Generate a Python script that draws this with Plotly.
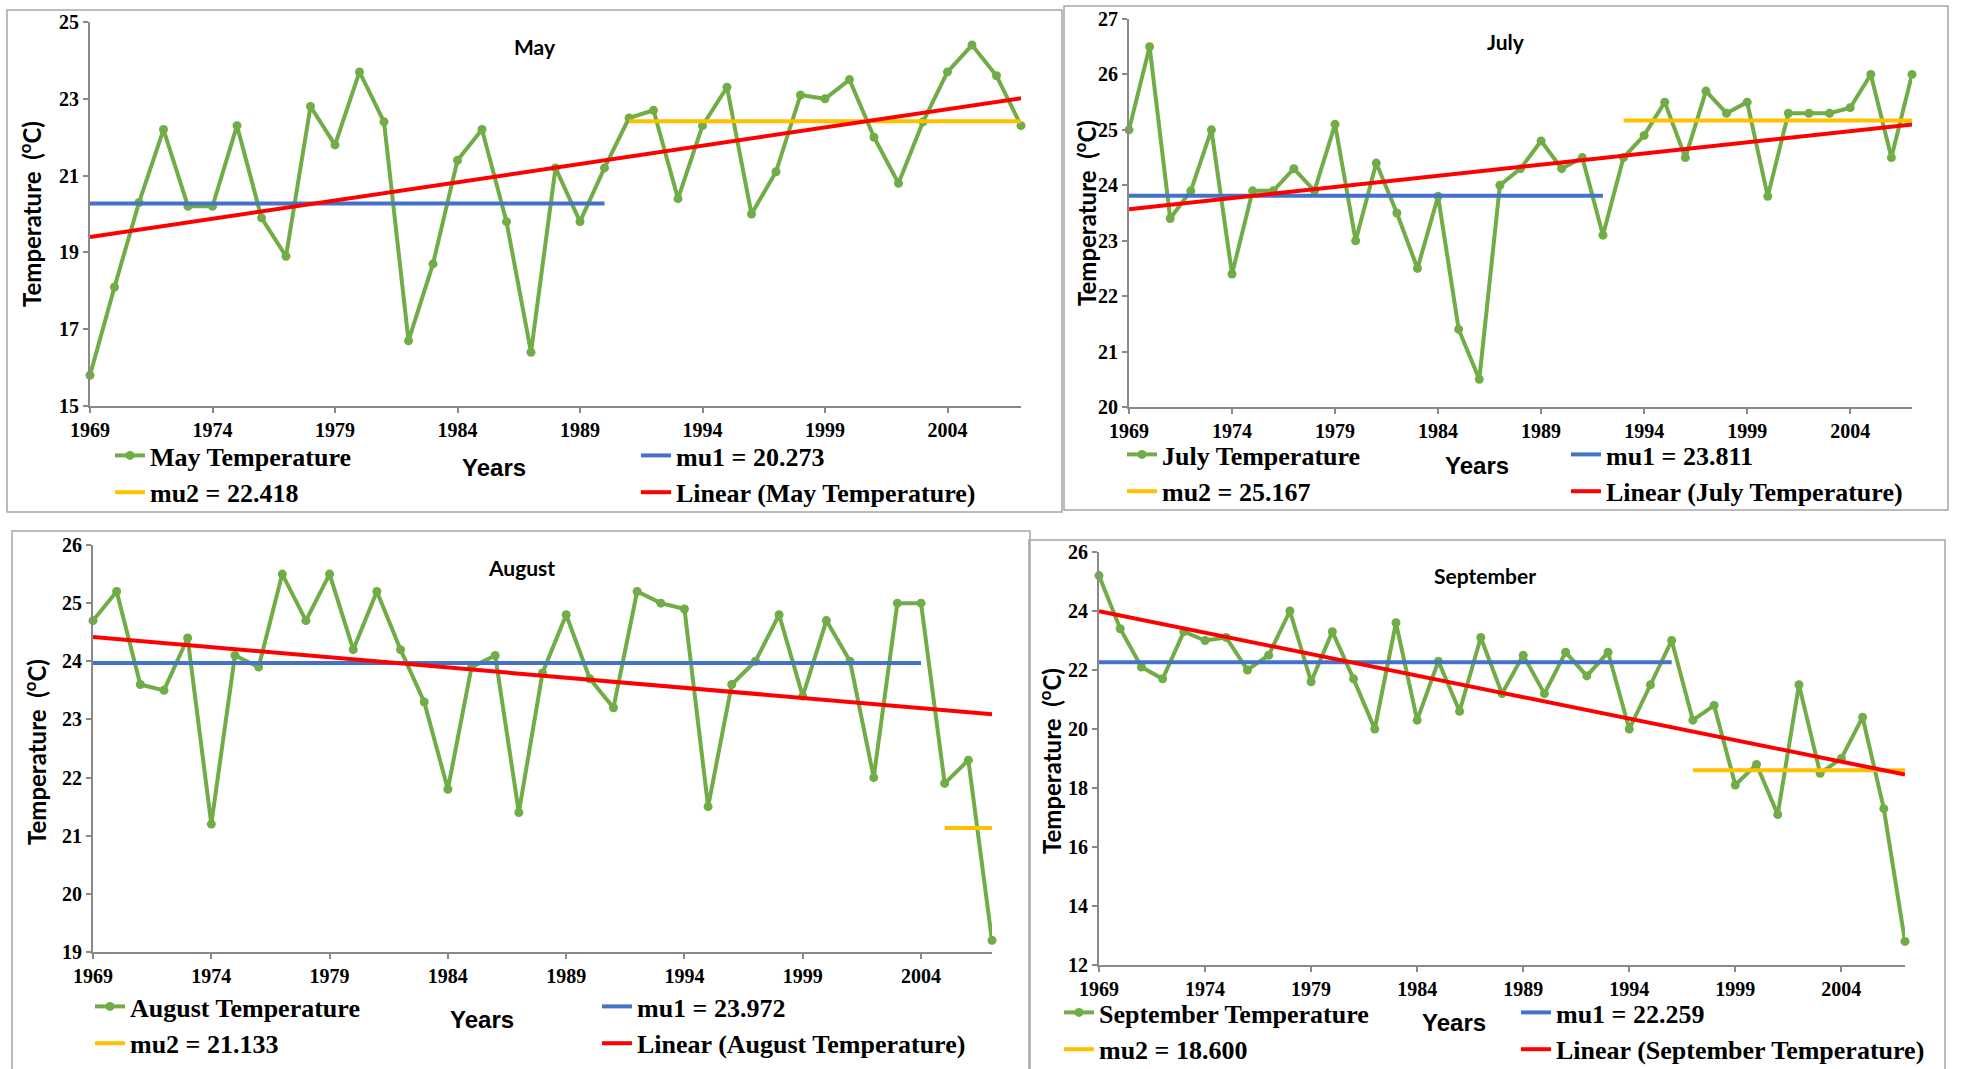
import numpy as np
import plotly.graph_objects as go

W, H = 1961, 1069

# ---------------- data ----------------
YEARS = [1969, 1970, 1971, 1972, 1973, 1974, 1975, 1976, 1977, 1978,
         1979, 1980, 1981, 1982, 1983, 1984, 1985, 1986, 1987, 1988,
         1989, 1990, 1991, 1992, 1993, 1994, 1995, 1996, 1997, 1998,
         1999, 2000, 2001, 2002, 2003, 2004, 2005, 2006, 2007]
TICK_YEARS = [1969, 1974, 1979, 1984, 1989, 1994, 1999, 2004]

MAY_TEMP = [15.8, 18.1, 20.3, 22.2, 20.2, 20.2, 22.3, 19.9, 18.9, 22.8,
            21.8, 23.7, 22.4, 16.7, 18.7, 21.4, 22.2, 19.8, 16.4, 21.2,
            19.8, 21.2, 22.5, 22.7, 20.4, 22.3, 23.3, 20.0, 21.1, 23.1,
            23.0, 23.5, 22.0, 20.8, 22.4, 23.7, 24.4, 23.6, 22.3]
JULY_TEMP = [25.0, 26.5, 23.4, 23.9, 25.0, 22.4, 23.9, 23.9, 24.3, 23.9,
             25.1, 23.0, 24.4, 23.5, 22.5, 23.8, 21.4, 20.5, 24.0, 24.3,
             24.8, 24.3, 24.5, 23.1, 24.5, 24.9, 25.5, 24.5, 25.7, 25.3,
             25.5, 23.8, 25.3, 25.3, 25.3, 25.4, 26.0, 24.5, 26.0]
AUGUST_TEMP = [24.7, 25.2, 23.6, 23.5, 24.4, 21.2, 24.1, 23.9, 25.5, 24.7,
               25.5, 24.2, 25.2, 24.2, 23.3, 21.8, 23.9, 24.1, 21.4, 23.8,
               24.8, 23.7, 23.2, 25.2, 25.0, 24.9, 21.5, 23.6, 24.0, 24.8,
               23.4, 24.7, 24.0, 22.0, 25.0, 25.0, 21.9, 22.3, 19.2]
SEPTEMBER_TEMP = [25.2, 23.4, 22.1, 21.7, 23.3, 23.0, 23.1, 22.0, 22.5, 24.0,
                  21.6, 23.3, 21.7, 20.0, 23.6, 20.3, 22.3, 20.6, 23.1, 21.2,
                  22.5, 21.2, 22.6, 21.8, 22.6, 20.0, 21.5, 23.0, 20.3, 20.8,
                  18.1, 18.8, 17.1, 21.5, 18.5, 19.0, 20.4, 17.3, 12.8]

MAY_MU = [20.273, 22.418]
MAY_MU_YEARS = [[1969, 1990], [1991, 2007]]
JULY_MU = [23.811, 25.167]
JULY_MU_YEARS = [[1969, 1992], [1993, 2007]]
AUGUST_MU = [23.972, 21.133]
AUGUST_MU_YEARS = [[1969, 2004], [2005, 2007]]
SEPTEMBER_MU = [22.259, 18.600]
SEPTEMBER_MU_YEARS = [[1969, 1996], [1997, 2007]]

MONTHS = ["May", "July", "August", "September"]
SERIES = [MAY_TEMP, JULY_TEMP, AUGUST_TEMP, SEPTEMBER_TEMP]
MUS = [MAY_MU, JULY_MU, AUGUST_MU, SEPTEMBER_MU]
MU_YEARS = [MAY_MU_YEARS, JULY_MU_YEARS, AUGUST_MU_YEARS, SEPTEMBER_MU_YEARS]
Y_RANGES = [[15, 25], [20, 27], [19, 26], [12, 26]]
Y_DTICKS = [2, 1, 1, 2]

# ---------------- layout geometry (pixels) ----------------
PLOT_BOX = [
    dict(x0=90, x1=1021, ytop=22, ybot=406),
    dict(x0=1129, x1=1912, ytop=19, ybot=407),
    dict(x0=93, x1=992, ytop=545, ybot=952),
    dict(x0=1099, x1=1905, ytop=552, ybot=965),
]
FRAMES = [(7, 10, 1062, 512), (1064, 6, 1948, 510), (12, 531, 1030, 1080), (1029, 540, 1945, 1080)]
TITLE_POS = [(535, 46), (1506, 42), (521, 567), (1485, 575)]
YTITLE_POS = [(30, 214), (1085, 213), (35, 752), (1050, 761)]
YEARS_POS = [(494, 467), (1477, 465), (482, 1019), (1454, 1022)]
LEG_LEFT = [(150, 457), (1162, 456), (130, 1008), (1099, 1014)]
LEG_RIGHT = [(676, 457), (1606, 456), (637, 1008), (1556, 1014)]

GREEN = "#70AD47"
BLUE = "#4472C4"
YELLOW = "#FFC000"
RED = "#FF0000"
AXIS_GREY = "#898989"

SERIF = "Liberation Serif, Times New Roman, serif"
SANS = "Lato, Open Sans, sans-serif"
NARROW = "Liberation Sans Narrow, Arial Narrow, Liberation Sans, sans-serif"


def px_x(p):
    return p / W


def px_y(p):
    return 1 - p / H


fig = go.Figure()
layout = dict(
    width=W, height=H, template="none",
    margin=dict(l=0, r=0, t=0, b=0, autoexpand=False),
    paper_bgcolor="white", plot_bgcolor="white",
    showlegend=True,
)
annotations = []
shapes = []

for i, month in enumerate(MONTHS):
    n = i + 1
    xa = "x" if n == 1 else f"x{n}"
    ya = "y" if n == 1 else f"y{n}"
    xkey = "xaxis" if n == 1 else f"xaxis{n}"
    ykey = "yaxis" if n == 1 else f"yaxis{n}"
    legL = "legend" if n == 1 else f"legend{2 * n - 1}"
    legR = f"legend{2 * n}"
    temps = SERIES[i]
    box = PLOT_BOX[i]

    fig.add_trace(go.Scatter(
        x=YEARS, y=temps, mode="lines+markers", name=f"{month} Temperature",
        line=dict(color=GREEN, width=4), marker=dict(color=GREEN, size=9),
        xaxis=xa, yaxis=ya, legend=legL, cliponaxis=False, legendrank=1))
    fig.add_trace(go.Scatter(
        x=MU_YEARS[i][0], y=[MUS[i][0]] * 2, mode="lines",
        name=f"mu1 = {MUS[i][0]:.3f}", line=dict(color=BLUE, width=4),
        xaxis=xa, yaxis=ya, legend=legR, cliponaxis=False, legendrank=1))
    fig.add_trace(go.Scatter(
        x=MU_YEARS[i][1], y=[MUS[i][1]] * 2, mode="lines",
        name=f"mu2 = {MUS[i][1]:.3f}", line=dict(color=YELLOW, width=4),
        xaxis=xa, yaxis=ya, legend=legL, cliponaxis=False, legendrank=2))
    slope, intercept = np.polyfit(YEARS, temps, 1)
    tx = [YEARS[0], YEARS[-1]]
    ty = [slope * t + intercept for t in tx]
    fig.add_trace(go.Scatter(
        x=tx, y=ty, mode="lines", name=f"Linear ({month} Temperature)",
        line=dict(color=RED, width=4),
        xaxis=xa, yaxis=ya, legend=legR, cliponaxis=False, legendrank=2))

    tickfont = dict(family=SERIF, size=20, color="black", weight="bold")
    common = dict(showline=True, linecolor=AXIS_GREY, linewidth=2,
                  ticks="outside", ticklen=5, tickwidth=1.5, tickcolor=AXIS_GREY,
                  showgrid=False, zeroline=False, tickfont=tickfont,
                  fixedrange=True, automargin=False)
    layout[xkey] = dict(
        domain=[px_x(box["x0"]), px_x(box["x1"])], anchor=ya,
        range=[YEARS[0], YEARS[-1]], tickvals=TICK_YEARS, **common)
    layout[ykey] = dict(
        domain=[px_y(box["ybot"]), px_y(box["ytop"])], anchor=xa,
        range=Y_RANGES[i], dtick=Y_DTICKS[i], tick0=Y_RANGES[i][0], **common)

    legfont = dict(family=SERIF, size=26, color="black", weight="bold")
    for key, (tx_px, ty_px) in ((legL, LEG_LEFT[i]), (legR, LEG_RIGHT[i])):
        layout[key] = dict(
            x=px_x(tx_px - 40), y=px_y(ty_px - 25), xref="container", yref="container",
            xanchor="left", yanchor="top",
            orientation="v", bgcolor="rgba(0,0,0,0)", borderwidth=0,
            font=legfont, tracegroupgap=0, itemclick=False, itemdoubleclick=False)

    annotations.append(dict(
        text=month, x=px_x(TITLE_POS[i][0]), y=px_y(TITLE_POS[i][1]),
        xref="paper", yref="paper", showarrow=False, xanchor="center", yanchor="middle",
        font=dict(family=SANS, size=21, color="black", weight="bold")))
    annotations.append(dict(
        text="Temperature  (<sup>o</sup>C)", x=px_x(YTITLE_POS[i][0]), y=px_y(YTITLE_POS[i][1]),
        xref="paper", yref="paper", showarrow=False, textangle=-90,
        xanchor="center", yanchor="middle",
        font=dict(family=SANS, size=24, color="black", weight="bold")))
    annotations.append(dict(
        text="Years", x=px_x(YEARS_POS[i][0]), y=px_y(YEARS_POS[i][1]),
        xref="paper", yref="paper", showarrow=False, xanchor="center", yanchor="middle",
        font=dict(family=NARROW, size=24, color="black", weight="bold")))

    fx0, fy0, fx1, fy1 = FRAMES[i]
    shapes.append(dict(type="rect", xref="paper", yref="paper",
                       x0=px_x(fx0), x1=px_x(fx1), y0=px_y(fy1), y1=px_y(fy0),
                       line=dict(color="#A6A6A6", width=1.5), fillcolor="rgba(0,0,0,0)",
                       layer="below"))

layout["annotations"] = annotations
layout["shapes"] = shapes
fig.update_layout(**layout)

fig.write_html("out.html", config={"displayModeBar": False},
               post_script="document.body.style.margin='0';document.body.style.overflow='hidden';")
